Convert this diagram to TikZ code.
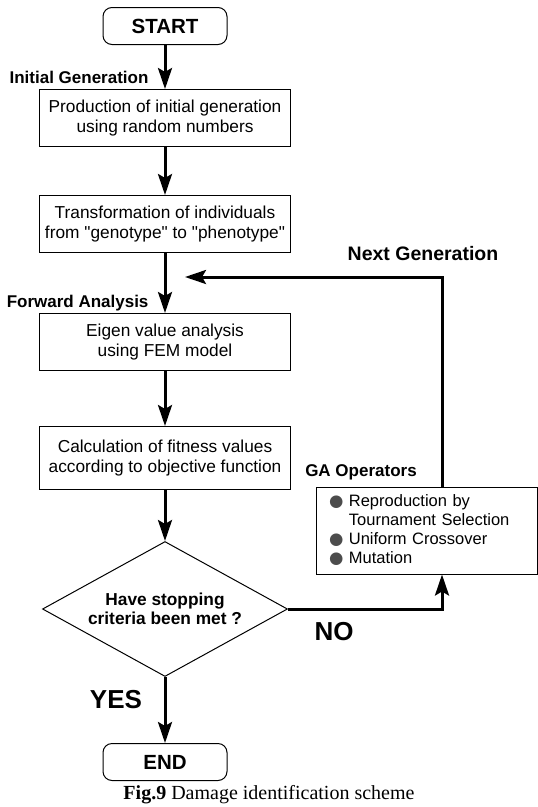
\documentclass[tikz,border=0pt]{standalone}
\usepackage{fontspec}
\setmainfont{Liberation Sans}
\newfontfamily\capfont{Liberation Serif}
\newfontfamily\dotfont{DejaVu Sans}
\usepackage{tikz}
\usetikzlibrary{shapes, arrows.meta}
\newcommand{\gadot}{{\dotfont\color{black!70}●}}

\begin{document}
\begin{tikzpicture}[x=1pt, y=-1pt,
		box/.style={draw, line width=1pt, minimum width=251pt, minimum height=57pt, inner sep=0pt, align=center, font=\fontsize{17.3}{20}\selectfont},
		term/.style={draw, line width=1pt, rounded corners=9pt, minimum width=124pt, minimum height=37pt, inner sep=0pt, font=\bfseries\fontsize{20.5}{24}\selectfont},
		lab/.style={font=\bfseries\fontsize{17}{20}\selectfont},
		flow/.style={line width=3pt, -{Stealth[length=21pt, width=14pt, inset=4pt]}}]
			\useasboundingbox (0,0) rectangle (538,807);
			\node[term] (start) at (165,26) {START};
			\node[box] (prod) at (165,118) {Production of initial generation\\using random numbers};
			\node[box] (trans) at (165,224) {Transformation of individuals\\from \textquotedbl genotype\textquotedbl{} to \textquotedbl phenotype\textquotedbl};
			\node[box] (eigen) at (165,342) {Eigen value analysis\\using FEM model};
			\node[box, minimum height=63pt] (fit) at (165,458) {Calculation of fitness values\\according to objective function};
			\node[diamond, draw, line width=1pt, minimum width=245pt, minimum height=135pt, aspect=1.8, inner sep=0pt, align=center, font=\bfseries\fontsize{17.3}{19.5}\selectfont] (test) at (165,609) {Have stopping\\criteria been met ?};
			\node[term] (end) at (165,762) {END};
			\node[draw, line width=1pt, minimum width=221pt, minimum height=87pt, text width=195pt, inner xsep=13pt, inner ysep=0pt, align=left, font=\fontsize{16.5}{19}\selectfont] (ops) at (426.5,530.5) {\gadot\ Reproduction by\\\hphantom{\gadot\ }Tournament Selection\\\gadot\ Uniform Crossover\\\gadot\ Mutation};
			\coordinate (loop) at (442,277);
			\coordinate (join) at (185,277);
			\node[lab, anchor=east] (initlab) at (152,77) {Initial Generation};
			\node[lab, anchor=east] (fwdlab) at (152,303) {Forward Analysis};
			\node[lab, font=\bfseries\fontsize{19.5}{22}\selectfont] (nextlab) at (423,254) {Next Generation};
			\node[lab] (galab) at (361,472) {GA Operators};
			\node[font=\bfseries\fontsize{26}{30}\selectfont] (nolab) at (334,632) {NO};
			\node[font=\bfseries\fontsize{26}{30}\selectfont] (yeslab) at (116,700) {YES};
			\node[font={\capfont\fontsize{20}{24}\selectfont}] (caption) at (269,795) {\textbf{Fig.9} Damage identification scheme};
			\draw[flow] (start) -- (prod);
			\draw[flow] (prod) -- (trans);
			\draw[flow] (trans) -- (eigen);
			\draw[flow] (eigen) -- (fit);
			\draw[flow] (fit) -- (test);
			\draw[flow] (test) -- (end);
			\draw[flow] (test.east) -| (ops.south -| loop);
			\draw[flow] (ops.north -| loop) -- (loop) -- (join);
		\end{tikzpicture}
\end{document}
